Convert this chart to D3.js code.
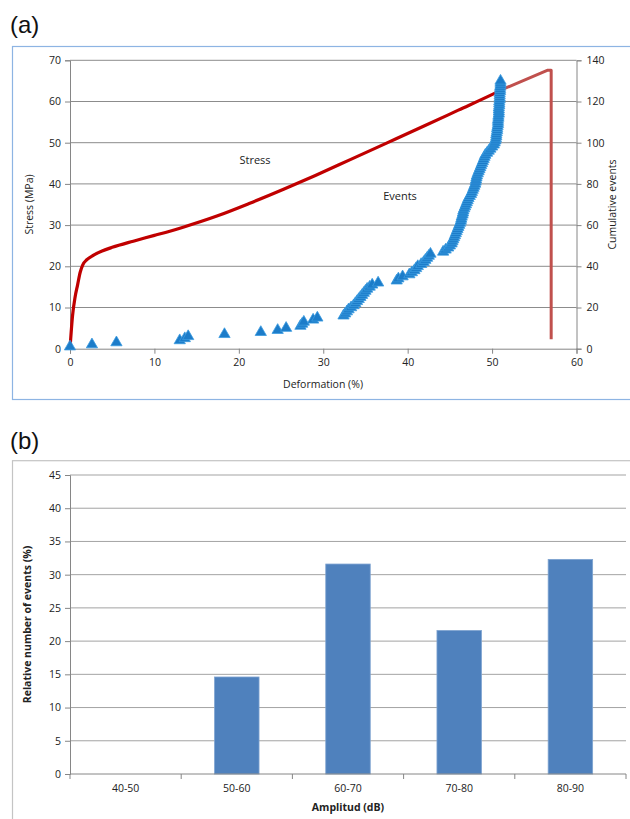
<!DOCTYPE html>
<html><head><meta charset="utf-8">
<script src="https://cdn.jsdelivr.net/npm/d3@7"></script>
<style>
body{margin:0;background:#fff;}
svg{display:block;}
text{font-family:"Open Sans",Lato,sans-serif;fill:#222;}
</style></head><body>
<script>
// ---- Panel (a): stress–deformation curve ----
const stressDef = [0, 0.3, 0.6, 0.9, 1.2, 1.5, 2.0, 2.8, 3.8, 5, 7.5, 10, 13.4, 17.4, 21.3, 25.3, 29, 33.2, 37.5, 42, 46, 50.1, 51.3];
const stressVal = [0, 8, 12.5, 15.5, 18.5, 20.3, 21.6, 22.7, 23.7, 24.6, 26.1, 27.5, 29.5, 32.2, 35.3, 38.7, 42.0, 45.9, 49.9, 54.1, 57.9, 61.8, 63.0];
// final (lighter) segment up to failure and drop
const failDef = [51.3, 56.6, 57.0, 57.0];
const failVal = [63.0, 67.6, 67.6, 2.3];
// cumulative events: deformation at which each successive event (1..130) occurs
const eventDef = [
 0, 2.6, 5.5, 13.0, 13.6, 14.0, 18.3, 22.6, 24.6, 25.6,
 27.3, 27.5, 27.7, 28.8, 29.3, 32.4, 32.6, 32.8, 33.0, 33.3,
 33.6, 33.8, 34.0, 34.2, 34.4, 34.6, 34.8, 35.0, 35.2, 35.5,
 35.8, 36.5, 38.7, 38.9, 39.4, 40.2, 40.5, 40.8, 41.0, 41.2,
 41.6, 41.9, 42.1, 42.3, 42.5, 42.7, 44.2, 44.5, 44.8, 45.0,
 45.2, 45.3, 45.4, 45.5, 45.6, 45.7, 45.8, 45.9, 46.0, 46.1,
 46.2, 46.3, 46.35, 46.4, 46.5, 46.55, 46.6, 46.7, 46.8, 46.9,
 47.0, 47.1, 47.2, 47.35, 47.5, 47.6, 47.7, 47.8, 47.9, 48.0,
 48.05, 48.1, 48.15, 48.2, 48.3, 48.4, 48.5, 48.6, 48.7, 48.8,
 48.9, 49.0, 49.1, 49.2, 49.4, 49.6, 49.8, 50.0, 50.2, 50.3,
 50.4, 50.45, 50.5, 50.5, 50.55, 50.6, 50.6, 50.65, 50.7, 50.7,
 50.7, 50.75, 50.75, 50.8, 50.8, 50.8, 50.8, 50.85, 50.85, 50.85,
 50.9, 50.9, 50.9, 50.9, 50.95, 50.95, 50.95, 51.0, 51.0, 51.0
];
const stressTicks = [0, 10, 20, 30, 40, 50, 60, 70];
const eventTicks = [0, 20, 40, 60, 80, 100, 120, 140];
const defTicks = [0, 10, 20, 30, 40, 50, 60];

// ---- Panel (b): amplitude histogram ----
const ampCats = ["40-50", "50-60", "60-70", "70-80", "80-90"];
const ampVals = [0, 14.6, 31.6, 21.6, 32.3];
const pctTicks = [0, 5, 10, 15, 20, 25, 30, 35, 40, 45];

const W = 630, H = 819;
const svg = d3.select("body").append("svg").attr("width", W).attr("height", H);

// ================= Panel (a) =================
svg.append("text").attr("x", 10).attr("y", 33).text("(a)")
  .style("font-family", "'Liberation Sans',Arial,sans-serif").style("font-size", "24px").style("fill", "#111");
svg.append("rect").attr("x", 12.5).attr("y", 46.5).attr("width", 630).attr("height", 353)
  .attr("fill", "none").attr("stroke", "#8DB4E3").attr("stroke-width", 1.2);

const xA = d3.scaleLinear().domain([0, 60]).range([70, 576.5]);
const yA = d3.scaleLinear().domain([0, 70]).range([348.7, 60.3]);
const yR = d3.scaleLinear().domain([0, 140]).range([348.7, 60.3]);

const gA = svg.append("g");
// gridlines
gA.selectAll("line.grid").data(stressTicks.slice(1)).join("line")
  .attr("x1", xA(0)).attr("x2", xA(60)).attr("y1", d => yA(d)).attr("y2", d => yA(d))
  .attr("stroke", "#8c8c8c").attr("stroke-width", 1);

const axL = gA.append("g").attr("transform", `translate(${xA(0)},0)`)
  .call(d3.axisLeft(yA).tickValues(stressTicks).tickSize(5).tickPadding(4));
const axB = gA.append("g").attr("transform", `translate(0,${yA(0)})`)
  .call(d3.axisBottom(xA).tickValues(defTicks).tickSize(5).tickPadding(5));
const axR = gA.append("g").attr("transform", `translate(${xA(60)},0)`)
  .call(d3.axisRight(yR).tickValues(eventTicks).tickSize(5).tickPadding(5));
[axL, axB, axR].forEach(a => {
  a.select(".domain").attr("stroke", "#868686");
  a.selectAll(".tick line").attr("stroke", "#868686");
  a.selectAll("text").style("font-family", "'Open Sans',sans-serif").style("font-size", "10.5px").attr("fill", "#222");
});

gA.append("text").attr("transform", `translate(33,${yA(35)}) rotate(-90)`).attr("text-anchor", "middle")
  .style("font-size", "10.5px").text("Stress (MPa)");
gA.append("text").attr("transform", `translate(616,${yA(35)}) rotate(-90)`).attr("text-anchor", "middle")
  .style("font-size", "10.5px").text("Cumulative events");
gA.append("text").attr("x", 323).attr("y", 388).attr("text-anchor", "middle")
  .style("font-size", "10.5px").text("Deformation (%)");

// stress curve
const line = d3.line().x(d => xA(d[0])).y(d => yA(d[1])).curve(d3.curveMonotoneX);
gA.append("path").datum(stressDef.map((d, i) => [d, stressVal[i]]))
  .attr("d", line).attr("fill", "none").attr("stroke", "#C00000").attr("stroke-width", 3.2)
  .attr("stroke-linejoin", "round");
const line2 = d3.line().x(d => xA(d[0])).y(d => yA(d[1]));
gA.append("path").datum(failDef.map((d, i) => [d, failVal[i]]))
  .attr("d", line2).attr("fill", "none").attr("stroke", "#C0504D").attr("stroke-width", 3)
  .attr("stroke-linejoin", "round");

// events markers
const tri = d3.symbol().type(d3.symbolTriangle).size(55);
gA.selectAll("path.ev").data(eventDef).join("path")
  .attr("transform", (d, i) => `translate(${xA(d)},${yR(i + 1)})`)
  .attr("d", tri).attr("fill", "#1C7CC9").attr("stroke", "#3A9AE0").attr("stroke-width", 0.8);

gA.append("text").attr("x", 255).attr("y", 164).attr("text-anchor", "middle").style("font-size", "11px").text("Stress");
gA.append("text").attr("x", 400).attr("y", 200).attr("text-anchor", "middle").style("font-size", "11px").text("Events");

// ================= Panel (b) =================
svg.append("text").attr("x", 10).attr("y", 449).text("(b)")
  .style("font-family", "'Liberation Sans',Arial,sans-serif").style("font-size", "24px").style("fill", "#111");
svg.append("rect").attr("x", 12.5).attr("y", 460.7).attr("width", 630).attr("height", 400)
  .attr("fill", "none").attr("stroke", "#C4C4C4").attr("stroke-width", 1.2);

const xB = d3.scaleBand().domain(ampCats).range([70, 626]).paddingInner(0.6).paddingOuter(0.3);
const yB = d3.scaleLinear().domain([0, 45]).range([774, 475]);
const gB = svg.append("g");
gB.selectAll("line.grid").data(pctTicks.slice(1)).join("line")
  .attr("x1", 70).attr("x2", 626).attr("y1", d => yB(d)).attr("y2", d => yB(d))
  .attr("stroke", "#a3a3a3").attr("stroke-width", 1);

gB.selectAll("rect.bar").data(ampCats).join("rect")
  .attr("x", d => xB(d)).attr("width", xB.bandwidth())
  .attr("y", (d, i) => yB(ampVals[i])).attr("height", (d, i) => yB(0) - yB(ampVals[i]))
  .attr("fill", "#4F81BD").attr("stroke", (d, i) => ampVals[i] > 0 ? "#7EA3D0" : "none").attr("stroke-width", 0.8);

const axBL = gB.append("g").attr("transform", "translate(70,0)")
  .call(d3.axisLeft(yB).tickValues(pctTicks).tickSize(5).tickPadding(4));
const axBB = gB.append("g").attr("transform", `translate(0,${yB(0)})`)
  .call(d3.axisBottom(xB).tickSize(0).tickPadding(11));
// category boundary ticks
const bounds = ampCats.map(c => xB(c) - xB.step() * xB.paddingInner() / 2).concat([626]);
axBB.selectAll("line.bt").data(bounds).join("line")
  .attr("x1", d => d).attr("x2", d => d).attr("y1", 0).attr("y2", 5).attr("stroke", "#868686");
[axBL, axBB].forEach(a => {
  a.select(".domain").attr("stroke", "#868686");
  a.selectAll(".tick line").attr("stroke", "#868686");
  a.selectAll("text").style("font-family", "'Open Sans',sans-serif").style("font-size", "10.5px").attr("fill", "#222");
});
axBB.select(".domain").attr("d", "M70,0H626");

gB.append("text").attr("transform", `translate(31,${yB(22.5)}) rotate(-90)`).attr("text-anchor", "middle")
  .style("font-size", "10.5px").style("font-weight", "bold").text("Relative number of events (%)");
gB.append("text").attr("x", 348).attr("y", 811).attr("text-anchor", "middle")
  .style("font-size", "10.5px").style("font-weight", "bold").text("Amplitud (dB)");
</script>
</body></html>
